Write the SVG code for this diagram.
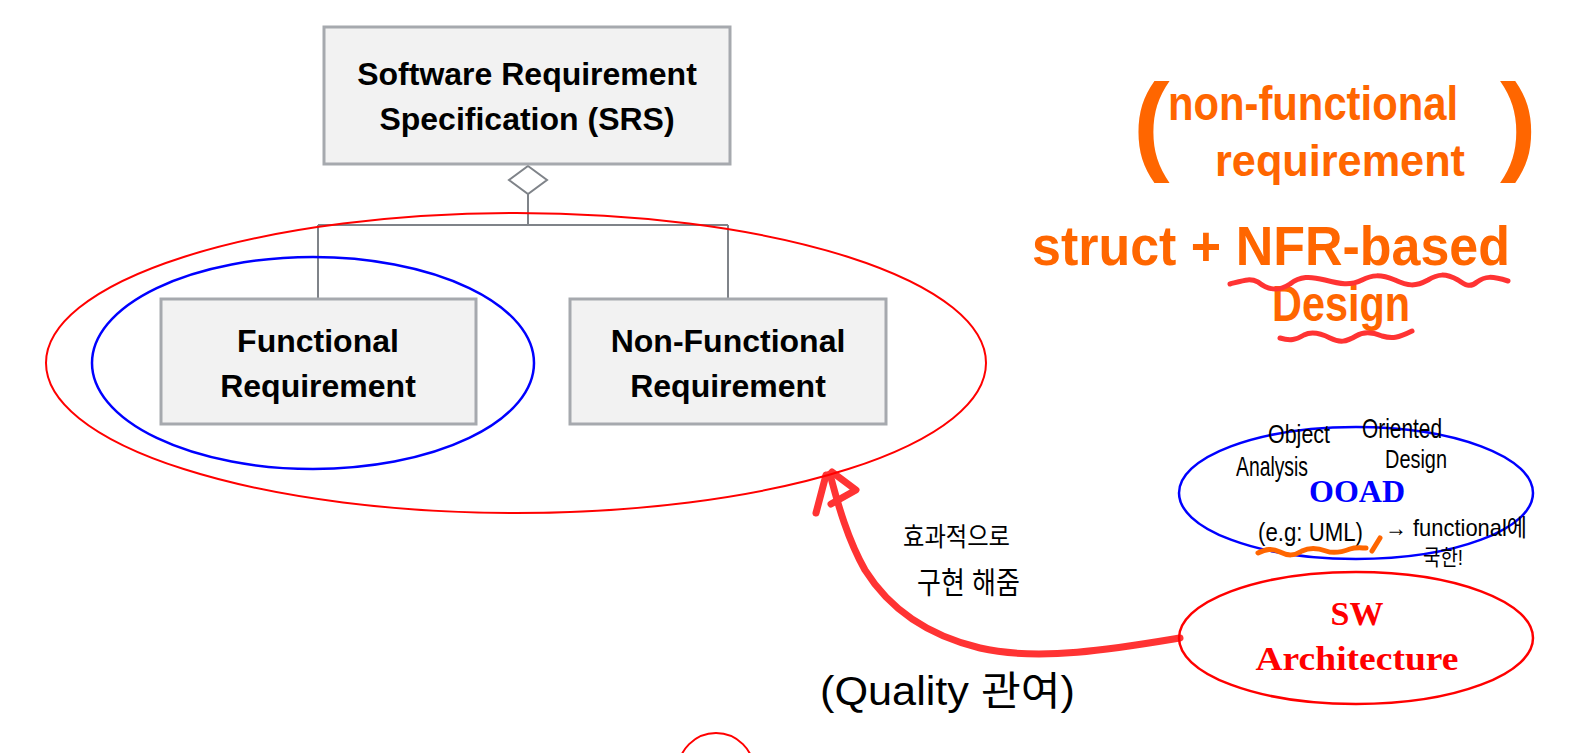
<svg xmlns="http://www.w3.org/2000/svg" width="1575" height="753" viewBox="0 0 1575 753">
<style>
.box{fill:#f2f2f2;stroke:#a6a9ae;stroke-width:3}
.bt{font-family:"Liberation Sans",Arial,sans-serif;font-weight:bold;font-size:32px;fill:#000;text-anchor:middle}
.agg{fill:none;stroke:#7f8389;stroke-width:2}
.ser{font-family:"Liberation Serif","Times New Roman",serif;font-weight:bold;text-anchor:middle}
.or{font-family:"Liberation Sans","Noto Sans CJK KR",sans-serif;font-weight:bold;fill:#ff6600}
.hw{font-family:"Liberation Sans","Noto Sans CJK KR",sans-serif;fill:#000}
.wave{fill:none;stroke:#ff3333;stroke-width:5;stroke-linecap:round;stroke-linejoin:round}
</style>
<rect width="1575" height="753" fill="#fff"/>

<g id="connectors">
  <path class="agg" d="M528,194 V225 M318,225 H728 M318,225 V299 M728,225 V299"/>
  <path class="agg" d="M528,166 L547,180 L528,194 L509,180 Z" fill="#fff"/>
  <path d="M1180,638 C1120,648 1040,662 980,648 C930,636 890,610 865,570 C848,540 838,505 830,474" fill="none" stroke="#ff3333" stroke-width="7" stroke-linecap="round"/>
  <path d="M816,513 L826,475 M832,472 L856,490 L831,504" fill="none" stroke="#ff3333" stroke-width="7" stroke-linecap="round" stroke-linejoin="round"/>
</g>

<g id="srs">
  <rect class="box" x="324" y="27" width="406" height="137"/>
  <text class="bt" x="527" y="85">Software Requirement</text>
  <text class="bt" x="527" y="130">Specification (SRS)</text>
</g>

<g id="functional">
  <rect class="box" x="161" y="299" width="315" height="125"/>
  <text class="bt" x="318" y="352">Functional</text>
  <text class="bt" x="318" y="397">Requirement</text>
</g>

<g id="nonfunctional">
  <rect class="box" x="570" y="299" width="316" height="125"/>
  <text class="bt" x="728" y="352">Non-Functional</text>
  <text class="bt" x="728" y="397">Requirement</text>
</g>

<g id="ellipse-all">
  <ellipse cx="516" cy="363" rx="470" ry="150" fill="none" stroke="#ff0000" stroke-width="2"/>
</g>
<g id="ellipse-functional">
  <ellipse cx="313" cy="363" rx="221" ry="106" fill="none" stroke="#0000ff" stroke-width="2.5"/>
</g>

<g id="ooad">
  <ellipse cx="1356" cy="493" rx="177" ry="66" fill="none" stroke="#0000ff" stroke-width="2.5"/>
  <text class="ser" x="1357" y="502" font-size="32" fill="#0000ff">OOAD</text>
</g>

<g id="sw-architecture">
  <ellipse cx="1356" cy="638" rx="177" ry="66" fill="none" stroke="#ff0000" stroke-width="2.5"/>
  <text class="ser" x="1357" y="625" font-size="34" fill="#ff0000">SW</text>
  <text class="ser" x="1357" y="670" font-size="34" fill="#ff0000" textLength="203" lengthAdjust="spacingAndGlyphs">Architecture</text>
</g>

<g id="bottom-circle">
  <circle cx="716" cy="771" r="38" fill="none" stroke="#ff0000" stroke-width="2"/>
</g>

<g id="annotation-nfr">
  <text class="or" x="1133" y="160" font-size="110">(</text>
  <text class="or" x="1168" y="120" font-size="48" textLength="290" lengthAdjust="spacingAndGlyphs">non-functional</text>
  <text class="or" x="1215" y="176" font-size="44" textLength="250" lengthAdjust="spacingAndGlyphs">requirement</text>
  <text class="or" x="1500" y="160" font-size="110">)</text>
  <text class="or" x="1032" y="265" font-size="56" textLength="478" lengthAdjust="spacingAndGlyphs">struct + NFR-based</text>
  <text class="or" x="1272" y="321" font-size="50" textLength="138" lengthAdjust="spacingAndGlyphs">Design</text>
  <path class="wave" d="M1230,284 C1245,280 1250,278 1258,282 C1268,290 1278,292 1290,284 C1300,276 1310,276 1325,280 C1340,284 1350,286 1362,280 C1372,275 1380,274 1395,280 C1408,286 1415,287 1428,280 C1438,274 1445,273 1458,280 C1465,285 1470,288 1477,282 C1485,276 1492,276 1508,281"/>
  <path class="wave" d="M1280,338 C1290,341 1296,340 1304,335 C1312,331 1320,333 1330,338 C1340,343 1346,342 1356,336 C1364,331 1372,332 1382,336 C1392,339 1398,338 1412,331"/>
</g>

<g id="annotation-ooad">
  <text class="hw" x="1268" y="443" font-size="26" textLength="62" lengthAdjust="spacingAndGlyphs">Object</text>
  <text class="hw" x="1362" y="438" font-size="28" textLength="80" lengthAdjust="spacingAndGlyphs">Oriented</text>
  <text class="hw" x="1236" y="476" font-size="28" textLength="72" lengthAdjust="spacingAndGlyphs">Analysis</text>
  <text class="hw" x="1385" y="468" font-size="26" textLength="62" lengthAdjust="spacingAndGlyphs">Design</text>
  <text class="hw" x="1258" y="541" font-size="26" textLength="105" lengthAdjust="spacingAndGlyphs">(e.g: UML)</text>
  <text class="hw" x="1385" y="536" font-size="24" textLength="142" lengthAdjust="spacingAndGlyphs">→ functional에</text>
  <text class="hw" x="1423" y="565" font-size="22" textLength="40" lengthAdjust="spacingAndGlyphs">국한!</text>
  <path d="M1258,553 C1266,549 1272,548 1280,552 C1288,556 1294,556 1302,551 C1310,547 1318,548 1326,551 C1334,554 1342,552 1350,549 C1356,547 1362,548 1366,548 M1380,538 L1372,551" fill="none" stroke="#ff6600" stroke-width="5" stroke-linecap="round"/>
</g>

<g id="annotation-arrow">
  <text class="hw" x="903" y="546" font-size="26" textLength="107" lengthAdjust="spacingAndGlyphs">효과적으로</text>
  <text class="hw" x="917" y="593" font-size="30" textLength="103" lengthAdjust="spacingAndGlyphs">구현 해줌</text>
  <text class="hw" x="820" y="705" font-size="40" textLength="255" lengthAdjust="spacingAndGlyphs">(Quality 관여)</text>
</g>
</svg>
